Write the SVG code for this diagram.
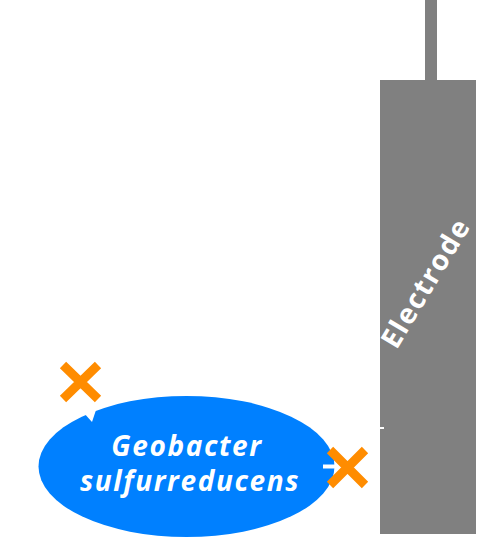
<svg xmlns="http://www.w3.org/2000/svg" width="477" height="539" viewBox="0 0 477 539">
<style>
.gray{fill:#808080}
.cell{fill:#0080FF}
.lbl{fill:#fff;font-family:"Open Sans","DejaVu Sans",sans-serif;font-weight:bold;font-size:28px;letter-spacing:1.6px;text-anchor:middle}
.xm{stroke:#FF8C00;stroke-width:9;stroke-linecap:butt;fill:none}
.conn{stroke:#fff;stroke-width:4;fill:none}
</style>
<rect width="477" height="539" fill="#fff"/>
<g id="electrode">
<rect class="gray" x="425" y="0" width="12" height="81"/>
<rect class="gray" x="380" y="80" width="96" height="454"/>
<text class="lbl" transform="translate(434,288) rotate(-59)">Electrode</text>
</g>
<g id="geobacter">
<ellipse class="cell" cx="186.5" cy="466.5" rx="148" ry="70.5"/>
<text class="lbl" font-style="italic" x="187" y="456">Geobacter</text>
<text class="lbl" font-style="italic" x="190" y="491">sulfurreducens</text>
</g>
<g id="connectors">
<polygon points="83,412 97,407 92,422" fill="#fff"/>
<line class="conn" x1="323" y1="466.5" x2="340" y2="466.5"/>
<line x1="380" y1="428" x2="384" y2="428" stroke="#fff" stroke-width="2"/>
</g>
<g id="block1">
<path class="xm" d="M63,365 L98,399 M98,365 L63,399"/>
</g>
<g id="block2">
<path class="xm" d="M330,450 L365,485 M365,450 L330,485"/>
</g>
</svg>
